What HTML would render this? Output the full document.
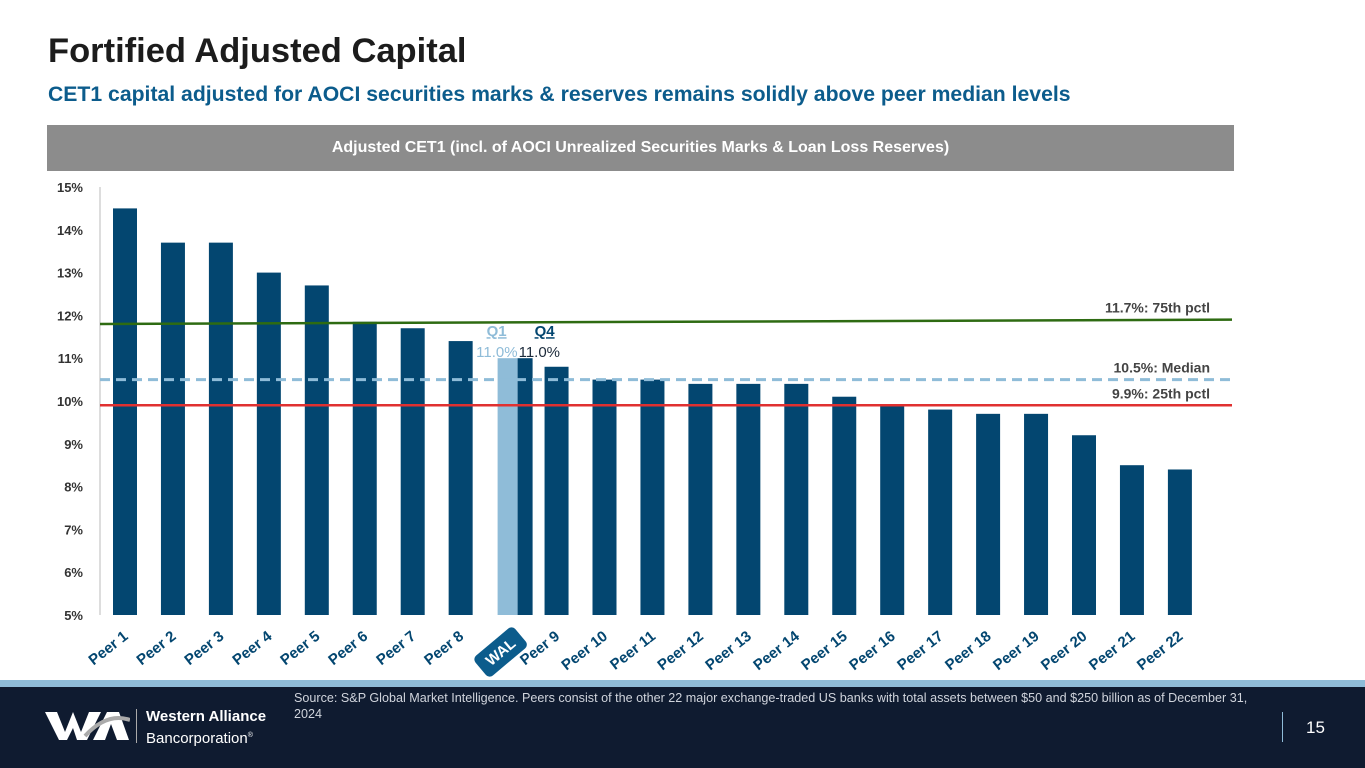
<!DOCTYPE html>
<html><head><meta charset="utf-8"><style>
body{margin:0;width:1365px;height:768px;overflow:hidden;background:#fff;font-family:"Liberation Sans",sans-serif;position:relative}
.abs{position:absolute}
</style></head><body>
<div class="abs" style="left:48px;top:32px;font-size:34.5px;font-weight:bold;color:#1c1c1c">Fortified Adjusted Capital</div>
<div class="abs" style="left:48px;top:83px;font-size:21.2px;font-weight:bold;color:#0c5c8c">CET1 capital adjusted for AOCI securities marks &amp; reserves remains solidly above peer median levels</div>
<div class="abs" style="left:47px;top:125px;width:1187px;height:46px;background:#8c8c8c;color:#fff;font-size:16px;font-weight:bold;text-align:center;line-height:46px">Adjusted CET1 (incl. of AOCI Unrealized Securities Marks &amp; Loan Loss Reserves)</div>
<svg class="abs" style="left:0;top:0" width="1365" height="680" id="chart"></svg>
<div class="abs" style="left:0;top:680px;width:1365px;height:7px;background:#8fbcd8"></div>
<div class="abs" style="left:0;top:687px;width:1365px;height:81px;background:#0f1b30">
<svg class="abs" style="left:45px;top:23px" width="85" height="32"><polygon points="0,2 12,2 20,22 28,2 36,22 44,2 56,2 42,30 32,30 28,18 22,30 14,30" fill="#fff"/><polygon points="48,30 62,2 74,2 84,30 72,30 66,14 60,30" fill="#fff"/><path d="M40,26 Q62,2 85,10" stroke="#aaa" stroke-width="4" fill="none"/></svg>
<div class="abs" style="left:136px;top:22px;width:1px;height:34px;background:#aaa"></div>
<div class="abs" style="left:146px;top:20px;color:#fff;font-size:15px;line-height:19px"><b>Western Alliance</b><br>Bancorporation<sup style="font-size:7px">®</sup></div>
<div class="abs" style="left:294px;top:3px;width:960px;color:#d0d4dc;font-size:12.6px;line-height:16px">Source: S&amp;P Global Market Intelligence.  Peers consist of the other 22 major exchange-traded US banks with total assets between $50 and $250 billion as of December 31, 2024</div>
<div class="abs" style="left:1282px;top:25px;width:1px;height:30px;background:#8fbcd8"></div>
<div class="abs" style="left:1306px;top:31px;color:#fff;font-size:17px">15</div>
</div>
<script>
const categories=["Peer 1","Peer 2","Peer 3","Peer 4","Peer 5","Peer 6","Peer 7","Peer 8","WAL","Peer 9","Peer 10","Peer 11","Peer 12","Peer 13","Peer 14","Peer 15","Peer 16","Peer 17","Peer 18","Peer 19","Peer 20","Peer 21","Peer 22"];
const values=[14.5,13.7,13.7,13.0,12.7,11.85,11.7,11.4,11.0,10.8,10.5,10.5,10.4,10.4,10.4,10.1,9.9,9.8,9.7,9.7,9.2,8.5,8.4];
const walQ1=11.0;
const yTicks=[5,6,7,8,9,10,11,12,13,14,15];
const refLabels=["11.7%: 75th pctl","10.5%: Median","9.9%: 25th pctl"];
const refStart=[11.8,10.5,9.9];
const refEnd=[11.9,10.5,9.9];
const NS="http://www.w3.org/2000/svg";
const svg=document.getElementById('chart');
const y=v=>615-(v-5)*42.8;
const x=i=>125+i*47.95;
function mk(t,a,txt){const e=document.createElementNS(NS,t);for(const k in a)e.setAttribute(k,a[k]);if(txt!==undefined)e.textContent=txt;svg.appendChild(e);return e;}
let ax=mk('line',{x1:100,x2:100,y1:187,y2:615,stroke:'#bbb','stroke-width':1});


yTicks.forEach(t=>{const e=mk('text',{x:83,y:y(t)+5,'text-anchor':'end','font-size':13,'font-weight':'bold',fill:'#333'},t+'%');

});
categories.forEach((c,i)=>{
 const cx=x(i);
 if(c==='WAL'){
  const q1=mk('rect',{x:cx-11,y:y(walQ1),width:20,height:615-y(walQ1),fill:'#8fbcd8'});
  
  
  const q4=mk('rect',{x:cx+9,y:y(values[i]),width:15,height:615-y(values[i]),fill:'#034670'});
  
  
  const a=mk('text',{x:cx-12,y:y(walQ1)-22,'text-anchor':'middle','font-size':15,'font-weight':'bold',fill:'#8fbcd8','text-decoration':'underline'},'Q1');
  
  const b=mk('text',{x:cx+36,y:y(values[i])-22,'text-anchor':'middle','font-size':15,'font-weight':'bold',fill:'#034670','text-decoration':'underline'},'Q4');
  
  const c1=mk('text',{x:cx+9,y:y(walQ1)-1,'text-anchor':'end','font-size':15,fill:'#8fbcd8'},walQ1.toFixed(1)+'%');
  
  const c2=mk('text',{x:cx+10,y:y(values[i])-1,'font-size':15,fill:'#1c2a3a'},values[i].toFixed(1)+'%');
  
  const g=mk('g',{transform:`translate(${cx-8},${652}) rotate(-40)`});
  
  const r=document.createElementNS(NS,'rect');r.setAttribute('x',-26);r.setAttribute('y',-13);r.setAttribute('width',52);r.setAttribute('height',26);r.setAttribute('rx',5);r.setAttribute('fill','#0c5c8c');g.appendChild(r);
  const t=document.createElementNS(NS,'text');t.setAttribute('text-anchor','middle');t.setAttribute('y',5);t.setAttribute('font-size',15);t.setAttribute('font-weight','bold');t.setAttribute('fill','#fff');t.textContent='WAL';g.appendChild(t);
 } else {
  const r=mk('rect',{x:cx-12,y:y(values[i]),width:24,height:615-y(values[i]),fill:'#034670'});
  
  
  const t=mk('text',{x:cx+4,y:638,'text-anchor':'end','font-size':15,'font-weight':'bold',fill:'#034670',transform:`rotate(-38 ${cx+4} 638)`},c);
  
  
 }
});
const colors=['#2e6b12','#8fbcd8','#e03030'];
refLabels.forEach((l,i)=>{
 const ln=mk('line',{x1:100,x2:1232,y1:y(refStart[i]),y2:y(refEnd[i]),stroke:colors[i],'stroke-width':i==1?3:2.5});
 if(i==1)ln.setAttribute('stroke-dasharray','10,6');
 
 
 const t=mk('text',{x:1210,y:y(refEnd[i])-7,'text-anchor':'end','font-size':14,'font-weight':'bold',fill:'#444'},l);
 
 
});
</script>
</body></html>
